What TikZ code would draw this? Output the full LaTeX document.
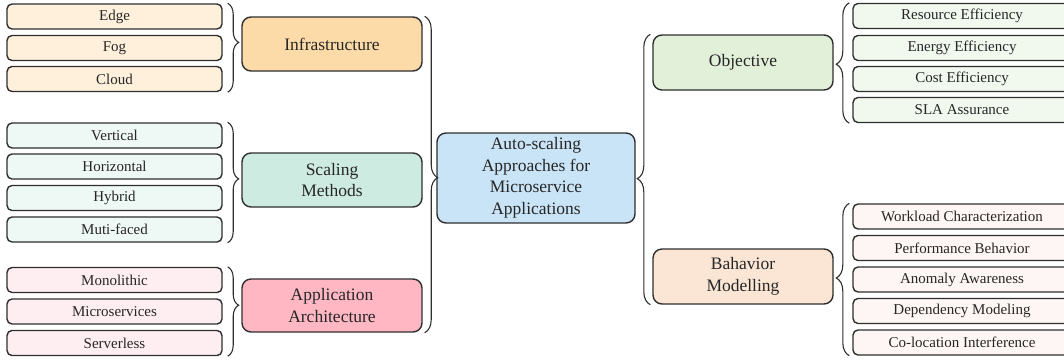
\documentclass[tikz,border=0pt]{standalone}
\usepackage{fontspec}
\setmainfont{Liberation Serif}
\usetikzlibrary{decorations.pathreplacing,calc}
\definecolor{edgec}{HTML}{2E2E2E}
\definecolor{textc}{HTML}{262626}
\definecolor{infraC}{HTML}{FDDBA8}
\definecolor{infraL}{HTML}{FFF0DB}
\definecolor{scaleC}{HTML}{CDEBE1}
\definecolor{scaleL}{HTML}{EEF8F5}
\definecolor{appC}{HTML}{FFB8C3}
\definecolor{appL}{HTML}{FFEEF1}
\definecolor{rootC}{HTML}{C9E4F6}
\definecolor{objC}{HTML}{E2F0D9}
\definecolor{objL}{HTML}{F1F9EE}
\definecolor{behC}{HTML}{FBE5D5}
\definecolor{behL}{HTML}{FEF6F4}
\tikzset{
  leafbox/.style={draw=edgec, line width=1.4pt, rounded corners=5pt, minimum width=215pt, minimum height=25pt, inner sep=0pt, text=textc, font=\fontsize{15}{17}\selectfont},
  rleafbox/.style={leafbox, minimum width=218pt},
  catbox/.style={draw=edgec, line width=1.4pt, rounded corners=9pt, minimum width=180pt, minimum height=54pt, inner sep=0pt, align=center, text=textc, font=\fontsize{17.5}{21.5}\selectfont},
  rootbox/.style={catbox, minimum width=198pt, minimum height=90pt, fill=rootC},
  bracket/.style={draw=edgec, line width=1.1pt, decorate},
}
\begin{document}
\begin{tikzpicture}[x=1pt,y=-1pt]
\useasboundingbox (0,0) rectangle (1064,360);
\clip (0,0) rectangle (1064,360);
% left leaves
\node[leafbox, fill=infraL] (edge) at (114.5,16.5) {Edge};
\node[leafbox, fill=infraL] (fog) at (114.5,48) {Fog};
\node[leafbox, fill=infraL] (cloud) at (114.5,79) {Cloud};
\node[leafbox, fill=scaleL] (vert) at (114.5,135.5) {Vertical};
\node[leafbox, fill=scaleL] (horiz) at (114.5,166.5) {Horizontal};
\node[leafbox, fill=scaleL] (hybrid) at (114.5,198) {Hybrid};
\node[leafbox, fill=scaleL] (muti) at (114.5,229.5) {Muti-faced};
\node[leafbox, fill=appL] (mono) at (114.5,280) {Monolithic};
\node[leafbox, fill=appL] (micro) at (114.5,311.5) {Microservices};
\node[leafbox, fill=appL] (serverless) at (114.5,343) {Serverless};
% left categories
\node[catbox, fill=infraC] (infra) at (332,44) {Infrastructure};
\node[catbox, fill=scaleC] (scaling) at (332,180) {Scaling\\Methods};
\node[catbox, fill=appC, minimum height=53pt] (app) at (332,305.5) {Application\\Architecture};
% root
\node[rootbox] (root) at (536,178) {Auto-scaling\\Approaches for\\Microservice\\Applications};
% right categories
\node[catbox, fill=objC, minimum height=55pt] (obj) at (743,62.5) {Objective};
\node[catbox, fill=behC, minimum height=55pt] (beh) at (743,276.5) {Bahavior\\Modelling};
% right leaves
\node[rleafbox, fill=objL] (res) at (962,16) {Resource Efficiency};
\node[rleafbox, fill=objL] (energy) at (962,48) {Energy Efficiency};
\node[rleafbox, fill=objL] (cost) at (962,79) {Cost Efficiency};
\node[rleafbox, fill=objL] (sla) at (962,110) {SLA Assurance};
\node[rleafbox, fill=behL] (work) at (962,216.5) {Workload Characterization};
\node[rleafbox, fill=behL] (perf) at (962,248) {Performance Behavior};
\node[rleafbox, fill=behL] (anom) at (962,279.5) {Anomaly Awareness};
\node[rleafbox, fill=behL] (dep) at (962,311) {Dependency Modeling};
\node[rleafbox, fill=behL] (coloc) at (962,342.5) {Co-location Interference};
% braces (left side, tips pointing right)
\draw[bracket, decoration={brace, amplitude=11pt, aspect=0.44}]
  ($(edge.north east)+(5,0)$) -- ($(cloud.south east)+(5,0)$);
\draw[bracket, decoration={brace, amplitude=11pt, aspect=0.47}]
  ($(vert.north east)+(5,0)$) -- ($(muti.south east)+(5,0)$);
\draw[bracket, decoration={brace, amplitude=11pt, aspect=0.43}]
  ($(mono.north east)+(5,0)$) -- ($(serverless.south east)+(5,0)$);
\draw[bracket, decoration={brace, amplitude=13pt, aspect=0.51}]
  ($(infra.north east)+(2,0)$) -- ($(app.south east)+(2,0)$);
% braces (right side, tips pointing left)
\draw[bracket, decoration={brace, amplitude=13pt, aspect=0.466}]
  ($(beh.south west)+(-2,0)$) -- ($(obj.north west)+(-2,0)$);
\draw[bracket, decoration={brace, amplitude=13pt, aspect=0.49}]
  ($(sla.south west)+(-3,0)$) -- ($(res.north west)+(-3,0)$);
\draw[bracket, decoration={brace, amplitude=13pt, aspect=0.51}]
  ($(coloc.south west)+(-3,0)$) -- ($(work.north west)+(-3,0)$);
\end{tikzpicture}
\end{document}
